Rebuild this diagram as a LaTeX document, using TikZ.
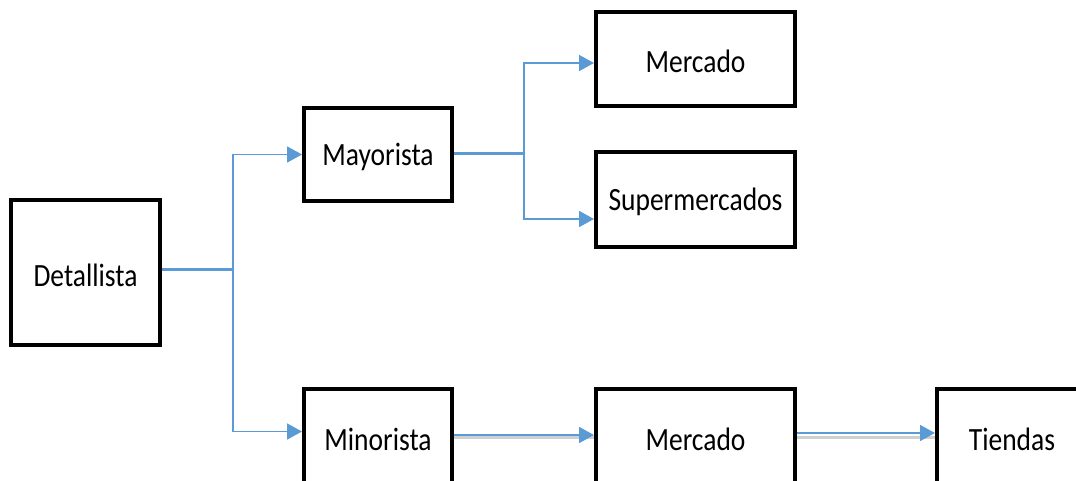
\documentclass[tikz,border=0pt]{standalone}
\usepackage{fontspec}
\setmainfont{Carlito}
\usetikzlibrary{arrows.meta,calc}
\definecolor{flowblue}{HTML}{5B9BD5}
\definecolor{shadowgray}{HTML}{D0D0D0}
\tikzset{
  box/.style={draw=black, line width=4pt, fill=white, inner sep=0pt,
    font=\fontsize{27.5pt}{30pt}\selectfont},
  link/.style={draw=flowblue, line width=1.8pt},
  trunk/.style={draw=flowblue, line width=3.6pt},
  arr/.style={link, -{Triangle[length=15pt,width=16pt]}},
  ghost/.style={draw=shadowgray, line width=2.5pt}
}
% labels sit a little low in their boxes and are slightly tall
\newcommand{\boxtext}[1]{\raisebox{-2.5pt}[\height][\depth]{\scalebox{1}[1.18]{#1}}}
\begin{document}
\begin{tikzpicture}[x=1pt,y=-1pt]
\useasboundingbox (0,0) rectangle (1076,480);
\clip (0,0) rectangle (1076,480);

% boxes
\node[box, minimum width=149pt, minimum height=145pt] (det) at (85.5,272.5) {\boxtext{Detallista}};
\node[box, minimum width=148pt, minimum height=93pt] (may) at (378,154.5) {\boxtext{Mayorista}};
\node[box, minimum width=199pt, minimum height=94pt] (mer1) at (695.5,59) {\boxtext{Mercado}};
\node[box, minimum width=199pt, minimum height=95pt] (sup) at (695.5,199.5) {\boxtext{Supermercados}};
\node[box, minimum width=148pt, minimum height=95pt] (min) at (378,436.5) {\boxtext{Minorista}};
\node[box, minimum width=199pt, minimum height=95pt] (mer2) at (695.5,436.5) {\boxtext{Mercado}};
\node[box, minimum width=150pt, minimum height=95pt] (tie) at (1012,436.5) {\boxtext{Tiendas}};

% branch out of Detallista
\coordinate (dj) at ($(det.east)+(71,-3)$);
\draw[trunk] ($(det.east)+(0,-3)$) -- (dj);
\draw[arr] (dj) |- (may.west);
\draw[arr] (dj) |- ($(min.west)+(0,-5)$);

% branch out of Mayorista
\coordinate (mj) at ($(may.east)+(70,-1)$);
\draw[trunk] ($(may.east)+(0,-1)$) -- (mj);
\draw[arr] (mj) |- ($(mer1.west)+(0,4)$);
\draw[arr] (mj) |- ($(sup.west)+(0,19.5)$);

% chain along the bottom row
\draw[ghost] ($(min.east)+(0,1)$) -- ($(mer2.west)+(0,1)$);
\draw[arr] ($(min.east)+(0,-1.5)$) -- ($(mer2.west)+(0,-1.5)$);
\draw[ghost] ($(mer2.east)+(0,1)$) -- ($(tie.west)+(0,1)$);
\draw[arr] ($(mer2.east)+(0,-3.5)$) -- ($(tie.west)+(0,-3.5)$);
\end{tikzpicture}
\end{document}
